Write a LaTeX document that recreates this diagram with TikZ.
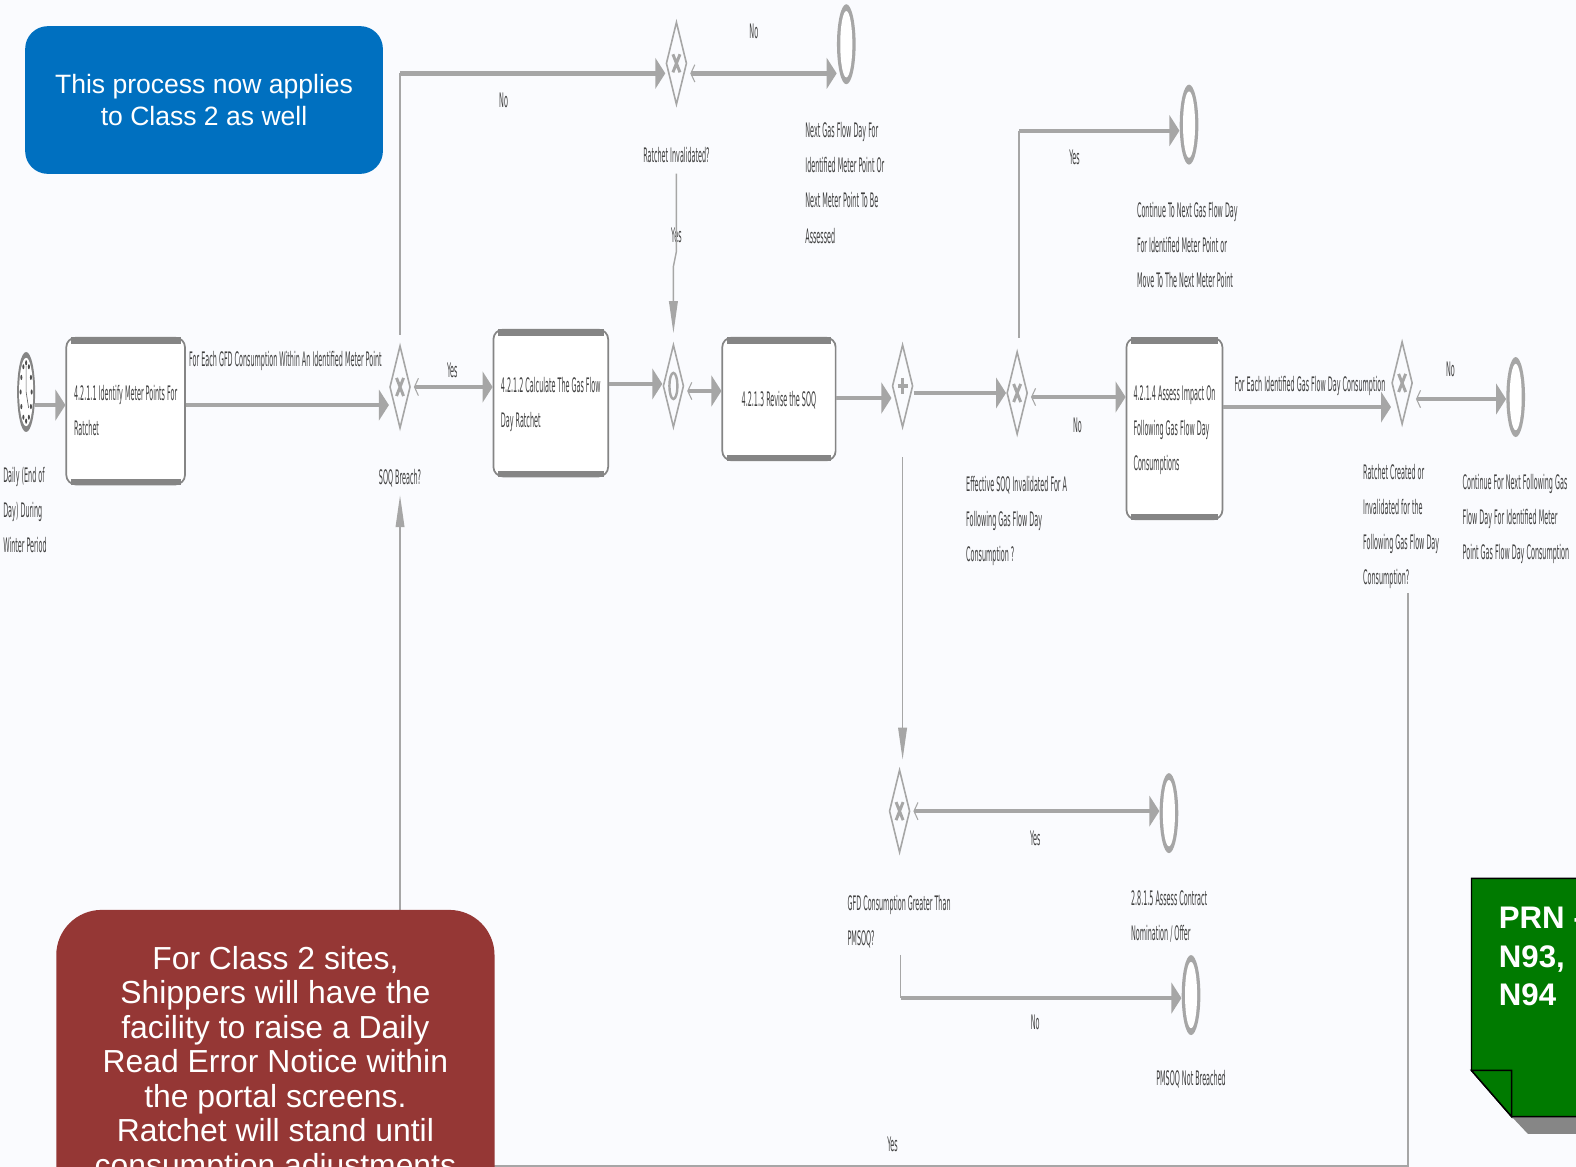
\documentclass[tikz,border=0pt]{standalone}
\usepackage{fontspec}
\usepackage{graphicx}
\setmainfont{Liberation Sans}
\newfontfamily\flowfont{DejaVu Sans}
\usetikzlibrary{shapes.geometric,arrows.meta}
\definecolor{pagebg}{HTML}{FAFBFE}
\definecolor{linegrey}{HTML}{A6A6A6}
\definecolor{bargrey}{HTML}{858585}
\definecolor{txtgrey}{HTML}{404040}
\definecolor{bluebox}{HTML}{0070C0}
\definecolor{redbox}{HTML}{953735}
\definecolor{greenbox}{HTML}{007A00}
\newcommand{\lb}[1]{\scalebox{0.322}[1]{\begin{tabular}{@{}l@{}}#1\end{tabular}}}
\newcommand{\xmk}[1]{\draw[marker] ([shift={(-3.5,-9)}]#1.center) -- ([shift={(3.5,9)}]#1.center) ([shift={(3.5,-9)}]#1.center) -- ([shift={(-3.5,9)}]#1.center);}
\newcommand{\ringfill}[1]{\fill[white] (#1.center) ellipse [x radius=6, y radius=33];}
\tikzset{
  x=0.75383pt,y=-0.75383pt,
  lbl/.style={inner sep=0pt,text=txtgrey,font=\flowfont\fontsize{15}{26.3}\selectfont},
  lblw/.style={lbl,anchor=west},
  gate/.style={diamond,draw=linegrey,line width=1.2pt,fill=pagebg,inner sep=0pt,minimum width=15.5pt,minimum height=62pt},
  endevent/.style={ellipse,fill=linegrey,inner sep=0pt,minimum width=14pt,minimum height=60pt},
  startevent/.style={ellipse,fill=bargrey,inner sep=0pt,minimum width=13.5pt,minimum height=60pt},
  task/.style={rectangle,draw=bargrey,line width=1.3pt,fill=white,rounded corners=7pt,inner sep=0pt,lbl},
  bar/.style={draw=bargrey,line width=5pt},
  marker/.style={draw=linegrey,line width=2.2pt},
  thinline/.style={draw=linegrey,line width=1.1pt},
  flow/.style={draw=linegrey,line width=3.2pt,-{Triangle[length=7.5pt,width=23pt]}},
  backflow/.style={draw=linegrey,line width=3.2pt,{Straight Barb[length=3pt,width=13pt,line width=0.8pt]}-{Triangle[length=7.5pt,width=23pt]},shorten <=2pt},
  vflow/.style={draw=linegrey,line width=1.1pt,-{Triangle[length=24pt,width=6.5pt]}},
  callout/.style={text=white,inner sep=0pt,align=center},
}
\begin{document}
\begin{tikzpicture}
\clip (0,0) rectangle (1568,1161);
\fill[pagebg] (0,0) rectangle (1568,1161);

% events
\node[startevent] (S) at (26,390) {};
\fill[white] (S.center) ellipse [x radius=7, y radius=34];
\foreach \a in {0,30,...,330}{\fill[black!70] ([shift={({5.5*cos(\a)},{29*sin(\a)})}]S.center) ellipse [x radius=1, y radius=2.6];}
\draw[black!60,line width=0.5pt] (S.center) -- ++(0,-26) (S.center) -- ++(2.5,16);
\node[endevent] (E1) at (842,44) {};
\node[endevent] (E2) at (1183,124) {};
\node[endevent] (E3) at (1508,395) {};
\node[endevent] (E4) at (1163,809) {};
\node[endevent] (E5) at (1185,990) {};
\foreach \n in {E1,E2,E3,E4,E5}{\ringfill{\n}}

% gateways
\node[gate] (G1) at (398,385) {};
\node[gate] (G2) at (673,63) {};
\node[gate] (G3) at (670,384) {};
\node[gate] (G4) at (898,384) {};
\node[gate] (G5) at (1012,391) {};
\node[gate] (G6) at (1395,381) {};
\node[gate] (G7) at (895,807) {};
\xmk{G1}\xmk{G2}\xmk{G5}\xmk{G6}\xmk{G7}
\draw[linegrey,line width=1.8pt] (G3.center) ellipse [x radius=4, y radius=13];
\draw[marker,line width=2.6pt] ([shift={(0,-8)}]G4.center) -- ([shift={(0,8)}]G4.center) ([shift={(-5,0)}]G4.center) -- ([shift={(5,0)}]G4.center);

% tasks
\node[task,minimum width=89pt,minimum height=110pt] (T1) at (125,409) {\lb{4.2.1.1 Identify Meter Points For\\Ratchet}};
\node[task,minimum width=86pt,minimum height=110pt] (T2) at (548,401) {\lb{4.2.1.2 Calculate The Gas Flow\\Day Ratchet}};
\node[task,minimum width=85pt,minimum height=92pt] (T3) at (775,397) {\lb{4.2.1.3 Revise the SOQ}};
\node[task,minimum width=72pt,minimum height=136pt] (T4) at (1168.5,426.5) {\lb{4.2.1.4 Assess Impact On\\Following Gas Flow Day\\Consumptions}};
\foreach \n in {T1,T2,T3,T4}{
  \draw[bar] ([shift={(4pt,-2.5pt)}]\n.north west) -- ([shift={(-4pt,-2.5pt)}]\n.north east);
  \draw[bar] ([shift={(4pt,2.5pt)}]\n.south west) -- ([shift={(-4pt,2.5pt)}]\n.south east);
}

% labels
\node[lblw] (lS) at (3,507.5) {\lb{Daily (End of\\Day) During\\Winter Period}};
\node[lblw] (lF1) at (188,358) {\lb{For Each GFD Consumption Within An Identified Meter Point}};
\node[lbl] (lG1) at (398,475) {\lb{SOQ Breach?}};
\node[lbl] (lY1) at (450,369) {\lb{Yes}};
\node[lbl] (lN1) at (501,100) {\lb{No}};
\node[lbl] (lG2) at (673,155) {\lb{Ratchet Invalidated?}};
\node[lbl] (lN2) at (750,31) {\lb{No}};
\node[lblw] (lE1) at (801,182.5) {\lb{Next Gas Flow Day For\\Identified Meter Point Or\\Next Meter Point To Be\\Assessed}};
\node[lblw] (lE2) at (1131,244.5) {\lb{Continue To Next Gas Flow Day\\For Identified Meter Point or\\Move To The Next Meter Point}};
\node[lbl] (lY3) at (1069,157) {\lb{Yes}};
\node[lblw] (lG5) at (961,517) {\lb{Effective SOQ Invalidated For A\\Following Gas Flow Day\\Consumption ?}};
\node[lbl] (lN3) at (1072,423) {\lb{No}};
\node[lblw] (lF2) at (1228,383) {\lb{For Each Identified Gas Flow Day Consumption}};
\node[lbl] (lN4) at (1443,368) {\lb{No}};
\node[lblw] (lG6) at (1356,522) {\lb{Ratchet Created or\\Invalidated for the\\Following Gas Flow Day\\Consumption?}};
\node[lblw] (lE3) at (1455,515) {\lb{Continue For Next Following Gas\\Flow Day For Identified Meter\\Point Gas Flow Day Consumption}};
\node[lblw] (lG7) at (843,916) {\lb{GFD Consumption Greater Than\\PMSOQ?}};
\node[lblw] (lE4) at (1125,911.5) {\lb{2.8.1.5 Assess Contract\\Nomination / Offer}};
\node[lbl] (lY4) at (1030,834) {\lb{Yes}};
\node[lbl] (lN5) at (1030,1017) {\lb{No}};
\node[lbl] (lE5) at (1185,1073) {\lb{PMSOQ Not Breached}};
\node[lbl] (lY5) at (888,1139) {\lb{Yes}};
\node[lbl] (lY2) at (673,234) {\lb{Yes}};

% connectors
\draw[flow] (S.east |- 0,403) -- (T1.west |- 0,403);
\draw[flow] (T1.east |- 0,403) -- (G1.west |- 0,403);
\draw[backflow] (G1.east |- 0,385) -- (T2.west |- 0,385);
\draw[flow] (T2.east |- 0,382) -- (G3.west |- 0,382);
\draw[backflow] (G3.east |- 0,389) -- (T3.west |- 0,389);
\draw[flow] (T3.east |- 0,396) -- (G4.west |- 0,396);
\draw[flow] (G4.east |- 0,391) -- (G5.west |- 0,391);
\draw[backflow] (G5.east |- 0,395) -- (T4.west |- 0,395);
\draw[flow] (T4.east |- 0,405) -- (G6.west |- 0,405);
\draw[backflow] (G6.east |- 0,397) -- (E3.west |- 0,397);
\draw[backflow] (G2.east |- 0,73) -- (E1.west |- 0,73);
\coordinate (c11) at (G1.north |- 0,73);
\draw[thinline,shorten <=7.5pt] (G1.north) -- (c11);
\draw[flow] (c11) -- (G2.west |- c11);
\coordinate (c13a) at (lG2.south |- 0,250);
\coordinate (c13b) at (G3.north |- 0,265);
\draw[vflow,shorten >=8pt] (lG2.south) -- (c13a) -- (c13b) -- (G3.north);
\coordinate (c14) at (1014,130);
\draw[thinline,shorten <=10pt] (c14 |- G5.north) -- (c14);
\draw[flow] (c14) -- (E2.west |- c14);
\coordinate (c15) at (G4.center |- 0,455);
\draw[vflow,shorten >=7pt] (c15) -- (c15 |- G7.north);
\draw[backflow] (G7.east) -- (E4.west |- G7.east);
\coordinate (c17a) at (896,950);
\coordinate (c17b) at (896,993);
\draw[thinline] (c17a) -- (c17b);
\draw[flow] (c17b) -- (E5.west |- c17b);
\coordinate (c18a) at (1401,590);
\coordinate (c18b) at (1401,1160);
\coordinate (c18c) at (398,1160);
\draw[thinline] (c18a) -- (c18b) -- (c18c);
\draw[vflow] (c18c) -- (lG1.south);

% callouts
\node[callout,fill=bluebox,rounded corners=17pt,minimum width=268.3pt,minimum height=110.8pt,font=\fontsize{19.9}{23.4}\selectfont] (B) at (203,99.5) {This process now applies\\to Class 2 as well};
\node[callout,fill=redbox,rounded corners=34pt,anchor=north,minimum width=328.7pt,minimum height=232pt,font=\fontsize{23.9}{25.9}\selectfont] (R) at (274,905) {For Class 2 sites,\\Shippers will have the\\facility to raise a Daily\\Read Error Notice within\\the portal screens.\\Ratchet will stand until\\consumption adjustments};

% note
\coordinate (na) at (1464,874);
\coordinate (nb) at (1464,1065);
\coordinate (nc) at (1504,1111);
\coordinate (nd) at (1504,1065);
\fill[gray!95] (nc) -- (1620,1111) -- (1620,1128) -- (1520,1128) -- cycle;
\draw[fill=greenbox,draw=black,line width=1.1pt] (na) -- (nb) -- (nc) -- (1620,1111) -- (1620,874) -- cycle;
\draw[fill=greenbox,draw=black,line width=1.1pt] (nb) -- (nd) -- (nc) -- cycle;
\node[anchor=north west,inner sep=0pt,align=left,text=white,font=\bfseries\fontsize{23.4}{29}\selectfont] (P) at (1491,902) {PRN -\\N93,\\N94};
\end{tikzpicture}
\end{document}
